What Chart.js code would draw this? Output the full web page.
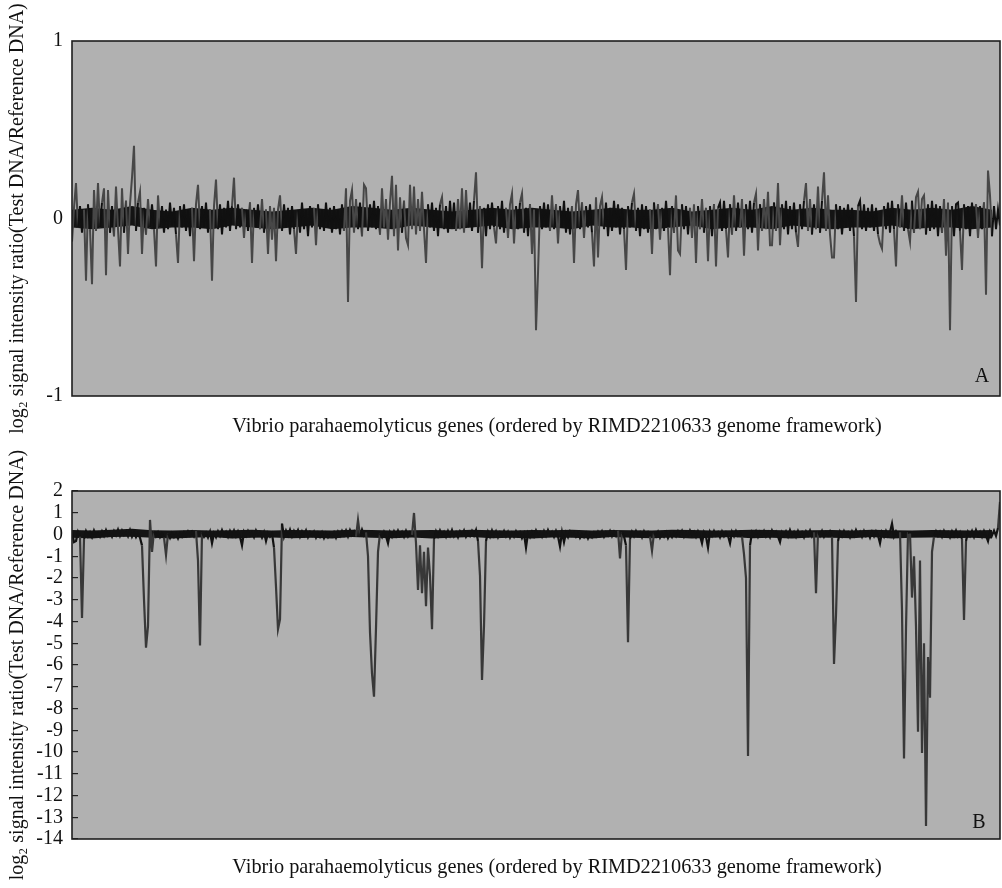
<!DOCTYPE html>
<html>
<head>
<meta charset="utf-8">
<script src="https://cdn.jsdelivr.net/npm/chart.js@4.4.1/dist/chart.umd.min.js"></script>
<style>
  html, body { margin: 0; padding: 0; background: #ffffff; }
  #wrap { position: relative; width: 1002px; height: 888px; overflow: hidden; }
  .panel { position: absolute; left: 0; width: 1002px; height: 444px; }
  #p1 { top: 0; }
  #p2 { top: 444px; }
</style>
</head>
<body>
<div id="wrap">
  <div class="panel" id="p1"><canvas id="c1"></canvas></div>
  <div class="panel" id="p2"><canvas id="c2"></canvas></div>
</div>
<script>
// ---- DATA (log2 ratio per gene position) ----
const topValues = [
-.13,.06,.20,-.05,.07,-.08,.05,-.35,.08,-.06,-.37,.16,-.07,.20,-.05,.09,.17,-.32,.16,-.08,
.07,-.10,.18,-.06,-.27,.17,-.08,.10,-.20,.08,.23,.41,-.07,.09,.15,-.20,.06,-.09,.11,-.05,
.08,-.06,-.27,.13,-.05,.07,-.08,.05,-.06,.09,-.04,.06,-.09,-.25,.07,-.05,.08,-.07,.05,-.10,
.06,-.24,.08,.19,-.06,.07,-.05,.09,-.08,.05,-.35,.07,.22,-.06,.08,-.09,.06,-.05,.10,-.07,
.07,.23,-.06,.08,-.05,.06,-.11,.05,-.07,.09,-.25,.06,-.05,.08,-.06,.11,-.08,.05,-.20,.07,
-.12,.06,-.24,.05,.13,-.07,.08,-.05,.06,-.09,.07,-.06,-.20,.05,-.08,.09,-.06,.05,-.10,.07,
-.05,.06,-.15,.08,-.06,.05,-.07,.09,-.05,.06,-.08,.07,-.06,.05,-.09,.08,-.07,.17,-.47,.10,
.16,-.08,.11,-.06,.09,-.10,.19,.17,-.07,.08,-.05,.10,-.06,.07,-.09,.17,-.05,.11,-.12,.09,
.24,-.10,.19,-.18,.12,-.08,.10,-.11,-.15,.19,-.06,.18,-.09,.11,-.07,.15,-.06,-.25,.08,-.05,
.09,-.07,.06,-.10,.08,.12,-.06,.07,-.08,.10,-.05,.09,-.07,.11,-.06,.17,-.08,.16,-.05,.09,
-.07,.10,.26,-.08,.07,-.28,.06,-.10,.08,-.06,.09,-.05,-.14,.07,-.06,.10,-.08,.06,-.11,.08,
.14,-.14,.07,-.06,.09,.14,-.08,.06,-.10,.08,-.20,.05,-.63,-.31,.07,-.06,.09,-.05,.08,-.07,
.13,-.06,.08,-.14,.07,-.05,.10,-.08,.06,-.09,.07,-.25,.08,.16,-.06,.09,-.11,.07,-.05,.08,
-.08,-.27,.12,-.22,.07,.12,-.06,.09,-.10,.06,-.07,.10,-.05,.08,-.09,.06,-.06,-.29,.07,-.05,
.09,.14,-.07,.06,-.10,.08,-.06,.07,-.08,.05,-.20,.09,-.06,.08,-.12,.06,-.07,.10,-.05,-.32,
.07,-.08,.13,-.18,-.20,.08,-.06,.07,-.09,.06,-.11,.08,-.25,.07,-.06,.11,-.08,.06,-.24,.07,
-.10,.08,-.27,.06,.09,-.07,.10,-.06,-.22,.08,-.09,.13,-.07,.09,-.05,.11,-.21,.08,-.06,.10,
-.08,.09,.14,-.18,.08,-.07,.11,-.06,.15,-.15,-.15,.09,-.07,.20,-.15,.08,-.06,.10,-.09,.07,
-.06,.09,-.08,-.16,.08,-.06,.10,.20,-.07,.11,-.09,.08,-.06,.18,-.08,.10,.26,-.07,.13,-.09,
-.22,-.22,.08,-.06,.07,-.09,.06,-.05,.08,-.07,.06,-.10,-.47,.07,.10,-.06,.08,-.07,.06,-.05,
.08,-.07,.06,-.09,-.14,-.17,.07,-.06,.09,-.08,.10,-.06,-.27,.08,-.05,.13,-.07,.09,-.06,-.13,
.10,-.08,.12,.15,-.06,.11,.13,-.09,.08,-.07,.10,-.06,.08,-.10,.07,-.08,.11,-.21,.09,-.63,
.07,-.10,.08,.09,-.07,-.29,.08,-.06,.07,-.10,.09,-.05,.08,-.11,.07,-.06,.09,-.43,.27,.13,
-.10,.07,-.06,.05,-.04
];
// dense core of the top band: upper / lower extent every 10 genes
const topCoreStep = 10;
const topCoreUpper = [
.05,.06,.05,.07,.05,.04,.06,.05,.06,.05,.04,.05,.06,.05,.07,.06,.05,.06,.05,.04,
.05,.06,.05,.06,.05,.04,.05,.06,.05,.05,.06,.04,.05,.06,.05,.07,.05,.06,.05,.05,
.04,.06,.05,.06,.05,.07,.05
];
const topCoreLower = [
-.05,-.06,-.05,-.04,-.06,-.05,-.05,-.06,-.04,-.05,-.06,-.05,-.04,-.06,-.05,-.05,-.06,-.04,-.05,-.06,
-.05,-.04,-.06,-.05,-.05,-.06,-.04,-.05,-.05,-.06,-.05,-.04,-.06,-.05,-.05,-.06,-.04,-.05,-.06,-.05,
-.05,-.04,-.06,-.05,-.05,-.06,-.05
];
const bottomValues = [
.1,-.35,-.3,.12,-.1,-3.84,-.2,.15,-.08,.1,-.12,.18,-.05,.08,-.1,.14,-.06,.2,-.04,.1,
-.1,.16,-.03,.22,-.06,.18,-.02,.12,-.08,.2,-.1,.1,-.12,.06,-.15,-.5,-3.0,-5.2,-4.2,.67,
-.8,.15,-.08,.1,-.12,.05,-.14,-.94,.04,-.16,.06,-.12,.02,-.18,.05,-.1,.1,-.06,.14,-.04,
.12,-.08,.16,-1.2,-5.1,.1,-.1,.08,-.14,.12,-.4,.06,-.12,.14,-.06,.2,-.04,.12,-.1,.16,
-.05,.18,-.08,.14,-.1,-.5,.12,-.06,.16,-.04,.1,-.12,.18,-.02,.08,-.14,.1,-.3,.06,-.1,
.04,-.6,-2.4,-4.35,-3.9,.5,-.1,.18,-.04,.22,-.08,.16,-.02,.2,-.1,.14,-.05,.18,-.12,.1,
-.06,.12,-.14,.08,-.1,.1,-.16,.06,-.12,.04,-.08,.1,-.14,.12,-.06,.16,-.04,.18,-.08,.2,
-.02,.14,-.1,.67,-.06,.22,-.04,.1,-1.0,-4.5,-6.4,-7.46,-4.3,-.8,.04,-.12,.12,-.08,-.4,.1,
-.1,.14,-.06,.18,-.04,.12,-.1,.16,-.08,.1,-.02,.99,-.4,-2.55,-.5,-2.7,-.8,-3.3,-.6,-1.9,
-4.35,-.2,.14,-.08,.18,-.04,.12,-.1,.16,-.06,.2,-.08,.1,-.12,.14,-.02,.18,-.1,.08,-.06,
.16,-.04,.2,-.3,-1.9,-6.69,-4.2,-.3,.12,-.1,.18,-.06,.14,-.12,.1,-.04,.16,-.08,.12,-.14,
.08,-.1,.14,-.06,.1,-.16,.04,-.6,.06,-.12,.12,-.08,.18,-.04,.1,-.1,.16,-.06,.2,-.02,
.12,-.1,.16,-.08,-.55,.1,-.35,.08,-.12,.14,-.04,.1,-.1,.06,-.16,.02,-.12,.06,-.18,.04,
-.12,.08,-.08,.12,-.06,.14,-.1,.1,-.04,.16,-.08,.12,-.06,.18,-1.1,.1,-.08,-.5,-4.95,-.2,
.12,-.08,.16,-.04,.1,-.12,.14,-.06,.1,-.1,-.75,.08,-.08,.12,-.14,.06,-.1,.1,-.16,.04,
-.12,.08,-.08,.14,-.04,.16,-.1,.1,-.06,.18,-.02,.12,-.1,.14,-.06,-.4,.1,-.1,-.6,.12,
-.06,.16,-.04,.1,-.12,.14,-.08,.1,-.06,-.4,.12,-.08,.16,-.04,.1,-.1,-.9,-2.0,-10.18,-.5,
.1,-.06,.14,-.1,.12,-.04,.16,-.08,.1,-.12,.18,-.02,.12,-.1,-.35,.1,-.06,.14,-.08,.2,
-.04,.12,-.1,.16,-.06,.1,-.12,.14,-.04,.18,-.08,.1,-2.7,.12,-.06,.16,-.1,.1,-.04,.14,
-.1,-5.95,-3.7,-.3,.12,-.08,.16,-.04,.1,-.12,.14,-.06,.2,-.02,.12,-.1,.16,-.06,.1,-.14,
.12,-.08,.14,-.04,-.4,.1,-.1,.16,-.06,.12,.5,-.08,.14,-.06,.1,-3.5,-10.3,-4.3,.1,.05,
-2.9,-1.0,-4.24,-9.07,-1.2,-10.05,-5.0,-13.4,-5.63,-7.5,-.8,-.1,.14,-.06,.12,-.1,.16,-.04,.1,-.12,
.14,-.06,.18,-.08,.1,-.2,-3.93,-.3,.12,-.06,.16,-.1,.2,-.04,.12,-.1,.16,-.06,-.3,.14,
-.04,.18,-.06,.3,1.5
];
// dense core of the bottom baseline: upper / lower extent every 10 genes
const bottomCoreStep = 10;
const bottomCoreUpper = [
.21,.18,.22,.27,.2,.18,.21,.18,.2,.22,.18,.21,.2,.18,.22,.21,.18,.2,.21,.18,
.22,.2,.18,.21,.2,.22,.18,.21,.2,.18,.22,.21,.18,.2,.22,.21,.18,.2,.21,.18,
.22,.2,.18,.21,.2,.18,.21
];
const bottomCoreLower = [
-.15,-.18,-.12,-.1,-.15,-.18,-.15,-.12,-.18,-.15,-.14,-.17,-.15,-.18,-.12,-.15,-.17,-.14,-.18,-.15,
-.12,-.17,-.15,-.18,-.14,-.15,-.18,-.12,-.15,-.17,-.14,-.18,-.15,-.12,-.17,-.15,-.18,-.14,-.15,-.17,
-.12,-.18,-.15,-.14,-.17,-.15,-.18
];
const topTicks = [1, 0, -1];
const bottomTicks = [2, 1, 0, -1, -2, -3, -4, -5, -6, -7, -8, -9, -10, -11, -12, -13, -14];
const xTitle = 'Vibrio parahaemolyticus genes (ordered by RIMD2210633 genome framework)';
const yTitle = 'log\u2082 signal intensity ratio(Test DNA/Reference DNA)';
const panelLetters = ['A', 'B'];

// ---- RENDERING ----
const SERIF = '"Liberation Serif", "Times New Roman", Times, serif';
Chart.defaults.font.family = SERIF;
Chart.defaults.color = '#111';

const panelPlugin = {
  id: 'panelDeco',
  beforeDraw(chart, args, opts) {
    const { ctx, chartArea: a } = chart;
    ctx.save();
    ctx.fillStyle = '#b1b1b1';
    ctx.fillRect(a.left, a.top, a.right - a.left, a.bottom - a.top);
    ctx.restore();
  },
  afterDatasetsDraw(chart, args, opts) {
    const { ctx, chartArea: a } = chart;
    ctx.save();
    ctx.strokeStyle = '#1e1e1e';
    ctx.lineWidth = 1.6;
    ctx.strokeRect(a.left, a.top, a.right - a.left, a.bottom - a.top);
    ctx.fillStyle = '#111';
    ctx.font = '20px ' + SERIF;
    ctx.textAlign = 'center';
    ctx.textBaseline = 'middle';
    ctx.fillText(opts.letter, a.right - opts.dx, a.bottom - opts.dy);
    ctx.font = '20.3px ' + SERIF;
    ctx.fillText(xTitle, (a.left + a.right) / 2 + opts.titleShift, a.bottom + opts.titleDy);
    ctx.restore();
  }
};

function makeChart(canvasId, values, ticks, cfg) {
  const points = values.map((v, i) => ({ x: i, y: v }));
  const datasets = [{
    data: points,
    borderWidth: cfg.lw,
    borderColor: cfg.core,
    pointRadius: 0,
    tension: 0,
    fill: false,
    segment: {
      borderColor: c => (Math.abs(c.p0.parsed.y) > cfg.thr || Math.abs(c.p1.parsed.y) > cfg.thr) ? cfg.spike : cfg.core
    }
  }];
  if (cfg.coreLower) {
    datasets.push({
      data: cfg.coreLower.map((v, k) => ({ x: k * cfg.coreStep, y: v })),
      borderWidth: 0, pointRadius: 0, tension: 0, fill: false, borderColor: 'rgba(0,0,0,0)'
    });
    datasets.push({
      data: cfg.coreUpper.map((v, k) => ({ x: k * cfg.coreStep, y: v })),
      borderWidth: 0, pointRadius: 0, tension: 0, fill: '-1',
      borderColor: 'rgba(0,0,0,0)', backgroundColor: '#141414'
    });
  }
  return new Chart(document.getElementById(canvasId), {
    type: 'line',
    data: { datasets: datasets },
    options: {
      responsive: true,
      maintainAspectRatio: false,
      animation: false,
      devicePixelRatio: 1,
      layout: { padding: { top: cfg.padTop, right: 2, left: 0, bottom: 0 } },
      plugins: {
        legend: { display: false },
        tooltip: { enabled: false },
        panelDeco: { letter: cfg.letter, dx: cfg.dx, dy: cfg.dy, titleShift: 21, titleDy: cfg.titleDy }
      },
      scales: {
        x: {
          type: 'linear',
          min: 0,
          max: values.length - 1,
          grid: { display: false },
          border: { display: false },
          ticks: { display: false },
          afterFit: s => { s.height = cfg.xHeight; }
        },
        y: {
          type: 'linear',
          min: ticks[ticks.length - 1],
          max: ticks[0],
          afterBuildTicks: s => { s.ticks = ticks.map(v => ({ value: v })); },
          afterFit: s => { s.width = 72; },
          border: { display: false },
          grid: cfg.grid,
          ticks: { autoSkip: false, padding: cfg.tickPad, font: { size: 20, family: SERIF }, color: '#111' },
          title: { display: true, text: yTitle, font: { size: 20, family: SERIF }, color: '#111', padding: { top: 6, bottom: 0 } }
        }
      }
    },
    plugins: [panelPlugin]
  });
}

makeChart('c1', topValues, topTicks, {
  thr: 0.1, core: '#101010', spike: '#474747', lw: 2,
  coreLower: topCoreLower, coreUpper: topCoreUpper, coreStep: topCoreStep,
  padTop: 41, xHeight: 48, titleDy: 31, tickPad: 9,
  letter: panelLetters[0], dx: 18, dy: 19,
  grid: {
    drawTicks: false,
    drawOnChartArea: true,
    lineWidth: 1,
    color: c => (c.tick && c.tick.value === 0) ? '#222' : 'rgba(0,0,0,0)'
  }
});

makeChart('c2', bottomValues, bottomTicks, {
  thr: 0.6, core: '#121212', spike: '#383838', lw: 2.2,
  coreLower: bottomCoreLower, coreUpper: bottomCoreUpper, coreStep: bottomCoreStep,
  padTop: 47, xHeight: 49, titleDy: 29, tickPad: 15,
  letter: panelLetters[1], dx: 21, dy: 16,
  grid: {
    drawTicks: true,
    drawOnChartArea: false,
    tickLength: -6,
    lineWidth: 1.2,
    color: '#222'
  }
});
</script>
</body>
</html>
